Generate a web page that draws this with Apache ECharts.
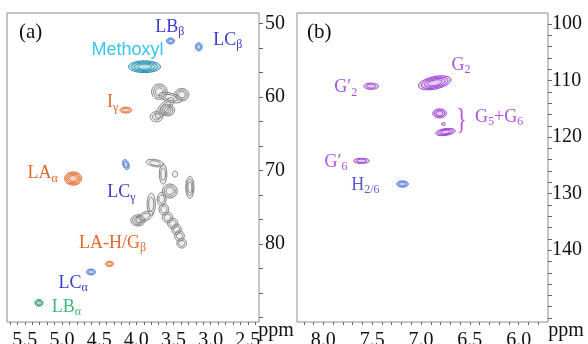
<!DOCTYPE html>
<html><head><meta charset="utf-8">
<script src="https://cdn.jsdelivr.net/npm/echarts@6/dist/echarts.min.js"></script>
<style>html,body{margin:0;padding:0;background:#fff}#c{width:588px;height:344px}</style>
</head><body><div id="c"></div>
<script>
// ---------- axis ticks ----------
const xTicksA = [5.5, 5.0, 4.5, 4.0, 3.5, 3.0, 2.5];
const xMinorA = [5.7,5.6,5.5,5.4,5.3,5.2,5.1,5.0,4.9,4.8,4.7,4.6,4.5,4.4,4.3,4.2,4.1,4.0,3.9,3.8,3.7,3.6,3.5,3.4,3.3,3.2,3.1,3.0,2.9,2.8,2.7,2.6,2.5,2.4];
const yTicksA = [50, 60, 70, 80];
const yMinorA = [50,53.33,56.67,60,63.33,66.67,70,73.33,76.67,80,83.33,86.67,90];
const xTicksB = [8.0, 7.5, 7.0, 6.5, 6.0];
const xMinorB = [8.2,8.1,8.0,7.9,7.8,7.7,7.6,7.5,7.4,7.3,7.2,7.1,7.0,6.9,6.8,6.7,6.6,6.5,6.4,6.3,6.2,6.1,6.0,5.9,5.8];
const yTicksB = [100, 110, 120, 130, 140];
const yMinorB = [100,102,104,106,108,110,112,114,116,118,120,122,124,126,128,130,132,134,136,138,140,142,144,146,148,150,152];

// ---------- cross peaks: [δH ppm, δC ppm, δH extent, δC extent, contour levels, tilt°] ----------
const ligninBluePeaks = [
  [3.54, 52.4, 0.11, 0.8, 2, 0],    // LBβ
  [3.16, 53.2, 0.09, 1.1, 2, 0],    // LCβ
  [4.14, 69.2, 0.08, 1.4, 2, -20],  // LCγ
  [4.61, 83.8, 0.12, 0.8, 2, 0]     // LCα
];
const methoxylPeaks = [[3.89, 55.9, 0.43, 1.6, 4, 0]];
const orangePeaks = [
  [4.14, 61.8, 0.16, 0.8, 2, 0],    // Iγ
  [4.85, 71.1, 0.23, 1.8, 4, 0],    // LAα
  [4.36, 82.7, 0.11, 0.7, 2, 0]     // LA-H/Gβ
];
const greenPeaks = [[5.31, 88.0, 0.11, 0.9, 2, 0]];   // LBα
const carbohydratePeaks = [
  // upper cluster
  [3.69, 59.3, 0.21, 2.1, 3, 0],
  [3.39, 59.7, 0.19, 1.7, 3, 0],
  [3.54, 60.1, 0.32, 1.2, 2, 15],
  [3.62, 61.5, 0.35, 1.35, 2, -49],
  [3.58, 61.8, 0.19, 1.6, 3, 0],
  [3.73, 62.7, 0.17, 1.4, 2, 0],
  // lower cluster
  [3.75, 69.0, 0.24, 0.95, 2, 10],
  [3.64, 70.5, 0.10, 2.7, 2, 0],
  [3.48, 70.5, 0.07, 0.8, 1, 0],
  [3.28, 72.3, 0.11, 3.0, 3, 0],
  [3.55, 72.8, 0.20, 1.9, 3, 0],
  [3.66, 73.9, 0.12, 1.8, 2, 0],
  [3.63, 75.3, 0.13, 1.5, 2, 0],
  [3.58, 76.4, 0.14, 1.4, 2, 0],
  [3.51, 77.2, 0.14, 1.4, 2, 0],
  [3.46, 78.0, 0.13, 1.4, 2, 0],
  [3.42, 78.9, 0.13, 1.4, 2, 0],
  [3.39, 79.9, 0.13, 1.3, 2, 0],
  [3.80, 74.6, 0.11, 3.0, 2, 0],
  [3.89, 76.3, 0.25, 1.2, 2, -27],
  [3.98, 76.8, 0.19, 1.5, 3, 0]
];
const guaiacylPeaks = [
  [7.51, 111.0, 0.15, 1.1, 2, 0],    // G′2
  [6.86, 110.4, 0.34, 2.2, 4, -12],  // G2
  [6.81, 115.8, 0.14, 1.6, 3, 0],    // G5
  [6.77, 117.7, 0.04, 0.5, 1, 0],
  [6.75, 119.1, 0.20, 1.2, 3, -8],   // G6
  [7.61, 124.2, 0.16, 0.9, 2, 0]     // G′6
];
const hPeaks = [[7.19, 128.3, 0.12, 1.1, 2, 0]];   // H2/6

// ---------- annotations: [text ({} = subscript), δH, δC] ----------
const labelsBlueA = [['LB{β}', 3.55, 50.5], ['LC{β}', 2.77, 52.3], ['LC{γ}', 4.20, 73.0], ['LC{α}', 4.85, 85.3]];
const labelsCyanA = [['Methoxyl', 4.12, 53.6]];
const labelsOrangeA = [['I{γ}', 4.32, 60.8], ['LA{α}', 5.26, 70.4], ['LA-H/G{β}', 4.32, 79.9]];
const labelsGreenA = [['LB{α}', 4.94, 88.6]];
const labelsPurpleB = [['G{2}', 6.59, 107.3], ['G′{2}', 7.77, 111.2], ['G{5}+G{6}', 6.20, 116.5], ['G′{6}', 7.87, 124.4]];
const labelsVioletB = [['H{2/6}', 7.57, 128.5]];
const braceB = [['}', 6.585, 117.0]];

const SERIF = 'Liberation Serif';
const SANS = 'Liberation Sans';

function ellipsePts(cx, cy, rx, ry, rot, n) {
  const pts = [], c = Math.cos(rot), s = Math.sin(rot);
  for (let i = 0; i < n; i++) {
    const t = 2 * Math.PI * i / n, x = rx * Math.cos(t), y = ry * Math.sin(t);
    pts.push([cx + x * c - y * s, cy + x * s + y * c]);
  }
  return pts;
}
function peakSeries(data, stroke, fill, gi) {
  return {
    type: 'custom', coordinateSystem: 'cartesian2d', xAxisIndex: gi, yAxisIndex: gi,
    data: data, silent: true, clip: true,
    renderItem: function (params, api) {
      const c = api.coord([api.value(0), api.value(1)]);
      const sz = api.size([api.value(2), api.value(3)]);
      const rx = Math.abs(sz[0]) / 2, ry = Math.abs(sz[1]) / 2;
      const n = api.value(4), rot = api.value(5) * Math.PI / 180;
      const children = [];
      for (let k = 0; k < n; k++) {
        const f = 1 - k * 0.75 / n;
        children.push({ type: 'polygon', shape: { points: ellipsePts(c[0], c[1], rx * f, ry * f, rot, 40) },
          style: { fill: k === 0 ? fill : 'none', stroke: stroke, lineWidth: 1 } });
      }
      return { type: 'group', children: children };
    }
  };
}
function toRich(t) {
  let out = '', re = /\{([^}]*)\}/g, last = 0, m;
  while ((m = re.exec(t))) {
    if (m.index > last) out += '{b|' + t.slice(last, m.index) + '}';
    out += '{s|' + m[1] + '}';
    last = re.lastIndex;
  }
  if (last < t.length) out += '{b|' + t.slice(last) + '}';
  return out;
}
function labelSeries(arr, color, gi, family, size) {
  return {
    type: 'custom', coordinateSystem: 'cartesian2d', xAxisIndex: gi, yAxisIndex: gi,
    data: arr.map(d => [d[1], d[2]]), silent: true, clip: false, z: 5,
    renderItem: function (params, api) {
      const c = api.coord([api.value(0), api.value(1)]);
      return { type: 'text', x: c[0], y: c[1],
        style: { text: toRich(arr[params.dataIndex][0]), align: 'center', verticalAlign: 'middle', fill: color,
          rich: {
            b: { fontFamily: family, fontSize: size, lineHeight: size + 4, fill: color, color: color },
            s: { fontFamily: family, fontSize: Math.round(size * 0.65), lineHeight: 10, verticalAlign: 'bottom', fill: color, color: color }
          } } };
    }
  };
}
function plainTextSeries(arr, color, gi, family, size) {
  return {
    type: 'custom', coordinateSystem: 'cartesian2d', xAxisIndex: gi, yAxisIndex: gi,
    data: arr.map(d => [d[1], d[2]]), silent: true, clip: false, z: 5,
    renderItem: function (params, api) {
      const c = api.coord([api.value(0), api.value(1)]);
      return { type: 'text', x: c[0], y: c[1], scaleX: 0.7,
        style: { text: arr[params.dataIndex][0], align: 'center', verticalAlign: 'middle', fill: color,
          fontFamily: family, fontSize: size } };
    }
  };
}
function xAxis(gi, min, max, labels, ticks) {
  return { type: 'value', gridIndex: gi, inverse: true, min: min, max: max, position: 'bottom',
    axisLine: { show: false }, splitLine: { show: false },
    axisTick: { show: true, inside: false, length: 3, customValues: ticks, lineStyle: { color: '#666' } },
    axisLabel: { customValues: labels, formatter: v => v.toFixed(1), fontFamily: SERIF, fontSize: 20, color: '#111', margin: 9 } };
}
function yAxis(gi, min, max, labels, ticks, margin) {
  return { type: 'value', gridIndex: gi, inverse: true, min: min, max: max, position: 'right',
    axisLine: { show: false }, splitLine: { show: false },
    axisTick: { show: true, inside: false, length: 4, customValues: ticks, lineStyle: { color: '#666' } },
    axisLabel: { customValues: labels, formatter: v => String(v), fontFamily: SERIF, fontSize: 20, color: '#111', margin: margin } };
}

const chart = echarts.init(document.getElementById('c'), null, { renderer: 'canvas' });
chart.setOption({
  backgroundColor: '#fff',
  animation: false,
  grid: [
    { left: 7, top: 13, width: 252, height: 309, show: true, borderColor: '#8c8c8c', borderWidth: 1, backgroundColor: '#fff', outerBoundsMode: 'none' },
    { left: 297, top: 13, width: 251, height: 309, show: true, borderColor: '#8c8c8c', borderWidth: 1, backgroundColor: '#fff', outerBoundsMode: 'none' }
  ],
  xAxis: [xAxis(0, 2.35, 5.74, xTicksA, xMinorA), xAxis(1, 5.70, 8.27, xTicksB, xMinorB)],
  yAxis: [yAxis(0, 48.6, 90.6, yTicksA, yMinorA, 6), yAxis(1, 98.05, 152.7, yTicksB, yMinorB, 4)],
  graphic: [
    { type: 'text', x: 19, y: 32, style: { text: '(a)', fontFamily: SERIF, fontSize: 21, fill: '#111', verticalAlign: 'middle' } },
    { type: 'text', x: 307, y: 32, style: { text: '(b)', fontFamily: SERIF, fontSize: 21, fill: '#111', verticalAlign: 'middle' } },
    { type: 'text', x: 276, y: 331, style: { text: 'ppm', fontFamily: SERIF, fontSize: 20, fill: '#111', align: 'center', verticalAlign: 'middle' } },
    { type: 'text', x: 566, y: 331, style: { text: 'ppm', fontFamily: SERIF, fontSize: 20, fill: '#111', align: 'center', verticalAlign: 'middle' } }
  ],
  series: [
    peakSeries(carbohydratePeaks, '#7d7d7d', 'rgba(160,160,160,0.16)', 0),
    peakSeries(ligninBluePeaks, '#3f72d6', 'rgba(90,130,225,0.35)', 0),
    peakSeries(methoxylPeaks, '#1d8cab', 'rgba(40,150,180,0.3)', 0),
    peakSeries(orangePeaks, '#e5672c', 'rgba(235,120,70,0.3)', 0),
    peakSeries(greenPeaks, '#17965c', 'rgba(40,160,100,0.35)', 0),
    peakSeries(guaiacylPeaks, '#9a3cd2', 'rgba(170,90,220,0.3)', 1),
    peakSeries(hPeaks, '#3c6cd8', 'rgba(80,120,220,0.35)', 1),
    labelSeries(labelsBlueA, '#3a3ccc', 0, SERIF, 18),
    labelSeries(labelsCyanA, '#38c4ec', 0, SANS, 18),
    labelSeries(labelsOrangeA, '#e2692e', 0, SERIF, 18),
    labelSeries(labelsGreenA, '#3cb878', 0, SERIF, 18),
    labelSeries(labelsPurpleB, '#b04fe0', 1, SERIF, 18),
    labelSeries(labelsVioletB, '#5a5ad6', 1, SERIF, 18),
    plainTextSeries(braceB, '#b04fe0', 1, SERIF, 30)
  ]
});
</script></body></html>
